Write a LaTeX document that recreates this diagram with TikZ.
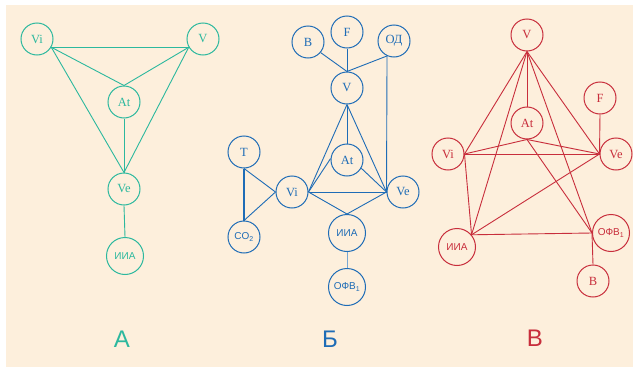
\documentclass[tikz,border=0pt]{standalone}
\usepackage{fontspec}
\setmainfont{Liberation Serif}
\setsansfont{Liberation Sans}
\definecolor{paper}{RGB}{253,239,220}
\definecolor{tealline}{RGB}{44,184,158}
\definecolor{blueline}{RGB}{30,108,182}
\definecolor{redline}{RGB}{200,46,60}
\tikzset{
  vert/.style={circle, draw, line width=1pt, minimum size=32pt, inner sep=0pt,
    font=\fontsize{12.5}{12.5}\selectfont},
  bigvert/.style={vert, minimum size=37pt, font=\sffamily\fontsize{10}{10}\selectfont},
  midvert/.style={vert, font=\sffamily\fontsize{10}{10}\selectfont},
  link/.style={line width=0.9pt},
  panel/.style={font=\sffamily\fontsize{24}{24}\selectfont}
}
\begin{document}
\begin{tikzpicture}[x=1pt,y=-1pt]
\useasboundingbox (0,0) rectangle (633,367);
\fill[white] (0,0) rectangle (633,367);
\fill[paper] (6,5) rectangle (633,367);

% ---- A ----
\begin{scope}[color=tealline]
  \node[vert] (aVi) at (37,39) {Vi};
  \node[vert] (aV) at (203,39) {V};
  \node[vert] (aAt) at (124,102) {At};
  \node[vert] (aVe) at (124,189) {Ve};
  \node[bigvert] (aIIA) at (125,256) {ИИА};
  \draw[link] (aVi.-30) -- (aV.-150);
  \draw[link] (aVi.-30) -- (aAt.north);
  \draw[link] (aV.-150) -- (aAt.north);
  \draw[link] (aVi.-30) -- (aVe.north);
  \draw[link] (aV.-150) -- (aVe.north);
  \draw[link] (aAt.south) -- (aVe.north);
  \draw[link] (aVe.south) -- (aIIA.north);
  \node[panel] (aLab) at (122,339) {А};
\end{scope}

% ---- B ----
\begin{scope}[color=blueline]
  \node[vert] (bB) at (308,42) {В};
  \node[vert] (bF) at (347,32) {F};
  \node[vert] (bOD) at (394,41) {ОД};
  \node[vert] (bV) at (347,88) {V};
  \node[vert] (bT) at (244,152) {T};
  \node[vert] (bAt) at (347,160) {At};
  \node[vert] (bVi) at (292,192) {Vi};
  \node[vert] (bVe) at (403,192) {Ve};
  \node[midvert] (bCO) at (244,237) {CO\textsubscript{2}};
  \node[bigvert] (bIIA) at (347,233) {ИИА};
  \node[bigvert] (bFEV) at (347,287) {ОФВ\textsubscript{1}};
  \draw[link] (bB.-40) -- (bV.north);
  \draw[link] (bF.south) -- (bV.north);
  \draw[link] (bOD.-115) -- (bV.north);
  \draw[link] (bOD.-115) -- (bVe.west);
  \draw[link] (bV.south) -- (bAt.north);
  \draw[link] (bV.south) -- (bVi.east);
  \draw[link] (bV.south) -- (bVe.west);
  \draw[link] (bAt.175) -- (bVi.east);
  \draw[link] (bAt.-30) -- (bVe.west);
  \draw[link] (bVi.east) -- (bVe.west);
  \draw[link] (bVi.east) -- (bIIA.north);
  \draw[link] (bVe.west) -- (bIIA.north);
  \draw[link, blueline!60] (bIIA.south) -- (bFEV.north);
  \draw[link, line width=1.3pt] (bT.south) -- (bCO.north);
  \draw[link] (bT.south) -- (bVi.west);
  \draw[link] (bCO.north) -- (bVi.west);
  \node[panel] (bLab) at (330,339) {Б};
\end{scope}

% ---- C ----
\begin{scope}[color=redline]
  \node[vert] (cV) at (527,35) {V};
  \node[vert] (cF) at (600,98) {F};
  \node[vert] (cAt) at (527,123) {At};
  \node[vert] (cVi) at (448,154) {Vi};
  \node[vert] (cVe) at (616,154) {Ve};
  \node[bigvert] (cIIA) at (457,247) {ИИА};
  \node[bigvert] (cFEV) at (611,233) {ОФВ\textsubscript{1}};
  \node[vert] (cB) at (593,281) {В};
  \draw[link] (cV.south) -- (cAt.north);
  \draw[link] (cV.south) -- (cVi.east);
  \draw[link] (cV.south) -- (cIIA.40);
  \draw[link] (cV.south) -- (cFEV.west);
  \draw[link] (cV.south) -- (cVe.west);
  \draw[link] (cAt.south) -- (cVi.east);
  \draw[link] (cAt.south) -- (cVe.west);
  \draw[link] (cAt.south) -- (cFEV.west);
  \draw[link] (cVi.east) -- (cVe.west);
  \draw[link] (cVi.east) -- (cIIA.40);
  \draw[link] (cVe.west) -- (cIIA.40);
  \draw[link] (cIIA.40) -- (cFEV.west);
  \draw[link] (cFEV.west) -- (cB.north);
  \draw[link] (cF.south) -- (cVe.west);
  \node[panel] (cLab) at (535,338) {В};
\end{scope}
\end{tikzpicture}
\end{document}
